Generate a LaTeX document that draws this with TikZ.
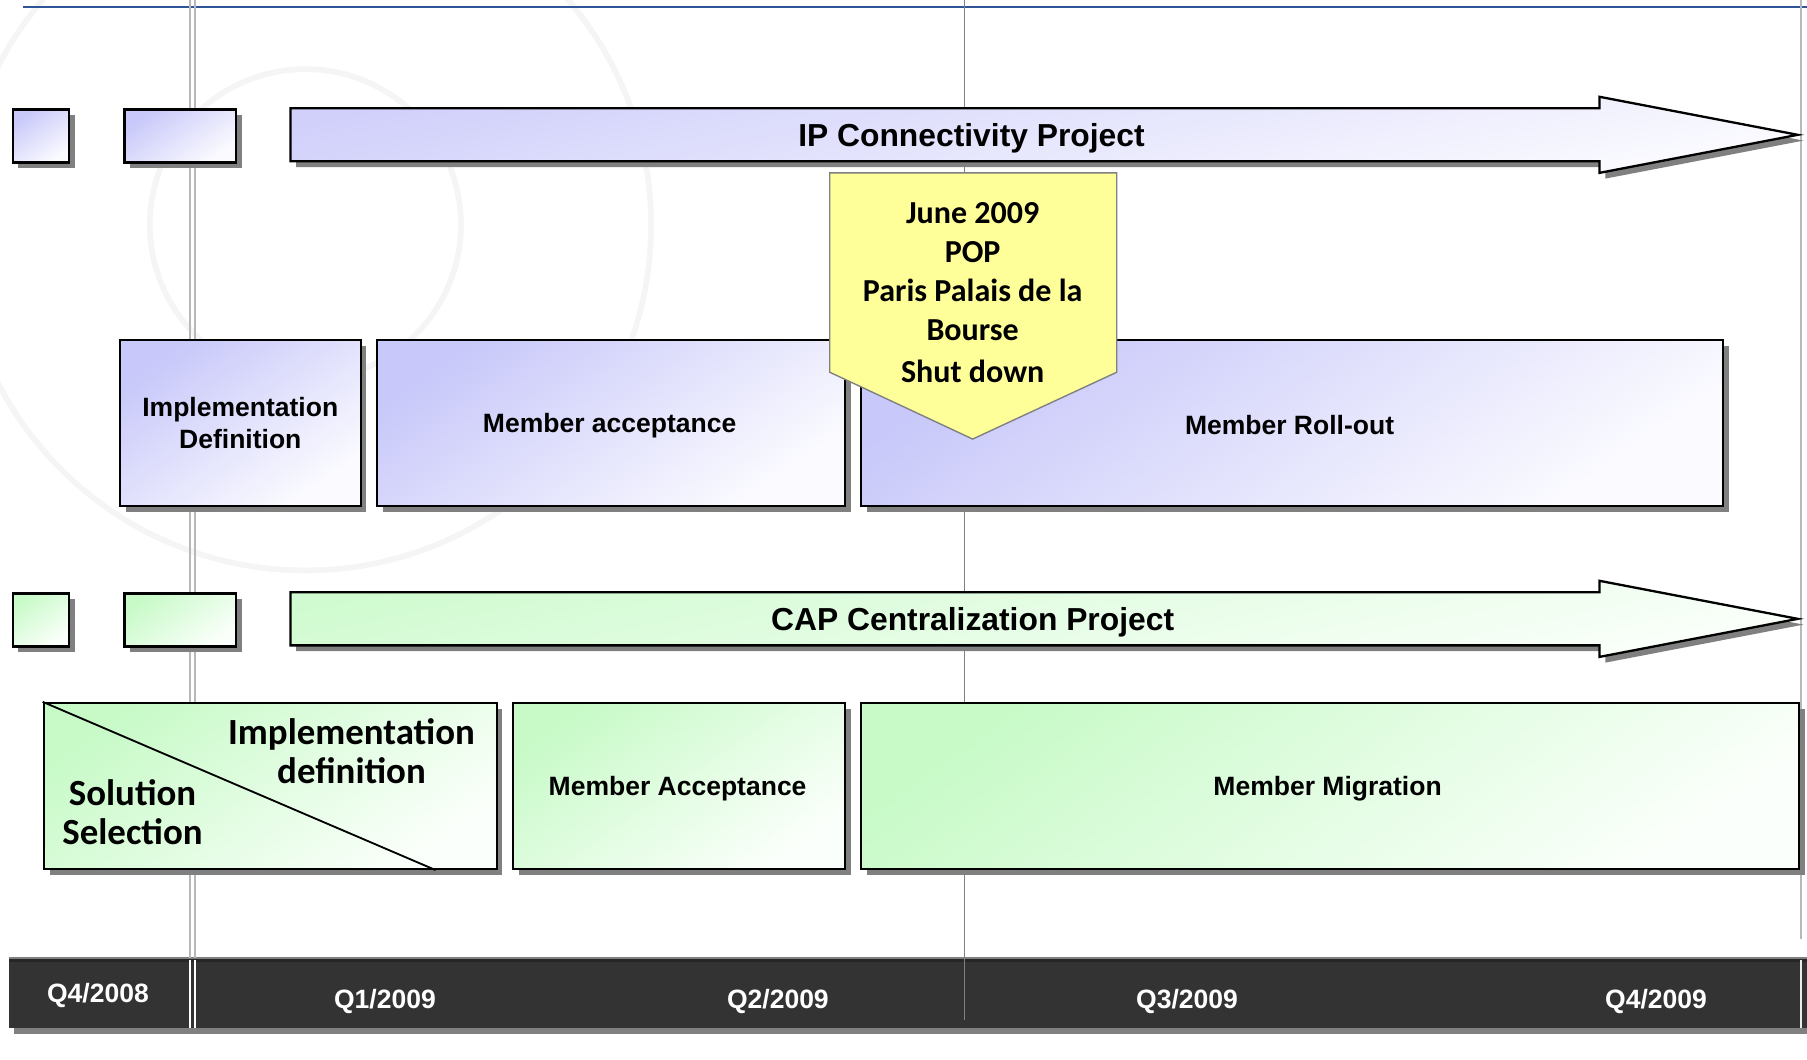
\documentclass[tikz,border=0pt]{standalone}
\usepackage{fontspec}
\setmainfont{Liberation Sans}
\newfontfamily\calfont{Carlito}
\usetikzlibrary{calc}
\definecolor{ipTop}{HTML}{C8C8FA}
\definecolor{ipBot}{HTML}{FBFBFF}
\definecolor{capTop}{HTML}{C8FAC8}
\definecolor{capBot}{HTML}{FBFFFB}
\definecolor{shadowc}{HTML}{808080}
\definecolor{barc}{HTML}{333333}
\definecolor{calloutc}{HTML}{FFFF99}
\definecolor{bluel}{HTML}{2F5597}
\definecolor{vlinec}{HTML}{B8B8B8}
\definecolor{wmc}{HTML}{F5F5F5}
\begin{document}
\begin{tikzpicture}[x=0.5pt,y=-0.5pt,
  shadowed/.style={preaction={fill=shadowc, transform canvas={shift={(5,5)}}}},
  ipfill/.style={top color=ipTop, bottom color=ipBot, shading angle=35},
  capfill/.style={top color=capTop, bottom color=capBot, shading angle=35},
  ipafill/.style={top color=ipTop!85!white, bottom color=ipBot, shading angle=12},
  capafill/.style={top color=capTop!85!white, bottom color=capBot, shading angle=12},
  phase/.style={draw=black, line width=1pt, anchor=north west, inner sep=0pt,
    align=center, shadowed, minimum height=72pt,
    font=\bfseries\fontsize{11.5}{14}\selectfont},
  smallbox/.style={draw=black, line width=1pt, anchor=north west, inner sep=0pt,
    shadowed, minimum height=23pt},
  arrowlabel/.style={font=\bfseries\fontsize{13.8}{16}\selectfont, inner sep=0pt},
  barlabel/.style={font=\bfseries\fontsize{11.5}{14}\selectfont, text=white, inner sep=0pt},
  calltext/.style={font=\calfont\bfseries\fontsize{13.9}{16.8}\selectfont, align=center, inner sep=0pt},
  soltext/.style={font=\calfont\bfseries\fontsize{16}{17}\selectfont, align=center, inner sep=0pt},
  boxtext/.style={font=\bfseries\fontsize{11.5}{14}\selectfont, inner sep=0pt},
  wm/.style={draw=wmc, line width=2.5pt}
]
\useasboundingbox (0,0) rectangle (1568,919);
\clip (0,0) rectangle (1568,919);

% watermark
\draw[wm] (265,195) circle [radius=300];
\draw[wm] (265,195) circle [radius=135];

% top blue rule
\draw[bluel, line width=1.1pt] (20,6) -- (1568,6);

% bottom quarter bar
\fill[shadowc] (12,892) rectangle (1568,897);
\fill[barc] (8,832) rectangle (1568,892);
\draw[shadowc, line width=0.8pt] (8,831) -- (1568,831);
\draw[black!85, line width=1pt] (8,833.5) -- (1568,833.5);

% vertical time lines
\draw[vlinec, line width=1pt] (165,0) -- (165,831) (169,0) -- (169,831);
\draw[white, line width=1pt] (165,833) -- (165,892) (169,833) -- (169,892);
\draw[gray, line width=0.7pt] (837,0) -- (837,885);
\draw[vlinec, line width=1pt] (1563,0) -- (1563,815);
\draw[white!85!gray, line width=1pt] (1563,833) -- (1563,892);

% IP row
\node[smallbox, ipfill, minimum width=24.5pt] (ips1) at (10,94) {};
\node[smallbox, ipfill, minimum width=48.5pt] (ips2) at (107,94) {};
\draw[line width=1pt, ipafill, shadowed] (252,94) -- (1388,94) -- (1388,84) -- (1560,117)
  -- (1388,150) -- (1388,140) -- (252,140) -- cycle;
\node[arrowlabel] (iplabel) at (843,120) {IP Connectivity Project};

\node[phase, ipfill, minimum width=104.5pt] (ipdef) at (103,294) {Implementation\\Definition};
\node[phase, ipfill, minimum width=203pt] (ipacc) at (326,294) {};
\node[boxtext] (ipacctxt) at (529,369) {Member acceptance};
\node[phase, ipfill, minimum width=374pt] (iproll) at (746,294) {};
\node[boxtext] (ipro) at (1119,369) {Member Roll-out};

% CAP row
\node[smallbox, capfill, minimum width=24.5pt] (caps1) at (10,514) {};
\node[smallbox, capfill, minimum width=48.5pt] (caps2) at (107,514) {};
\draw[line width=1pt, capafill, shadowed] (252,514) -- (1388,514) -- (1388,504) -- (1560,537)
  -- (1388,570) -- (1388,560) -- (252,560) -- cycle;
\node[arrowlabel] (caplabel) at (844,540) {CAP Centralization Project};

\node[phase, capfill, minimum width=196.5pt] (sol) at (37,609) {};
\draw[line width=0.8pt] (sol.north west) -- ($(sol.south west)+(341,0)$);
\node[soltext] (impltxt) at (305,652) {Implementation\\definition};
\node[soltext] (soltxt) at (115,705) {Solution\\Selection};
\node[phase, capfill, minimum width=144pt] (capacc) at (444,609) {};
\node[boxtext] (capacctxt) at (588,684) {Member Acceptance};
\node[phase, capfill, minimum width=407pt] (capmig) at (746,609) {};
\node[boxtext] (capmigtxt) at (1152,684) {Member Migration};

% callout
\draw[fill=calloutc, draw=gray, line width=0.6pt] (720,150) -- (969,150) -- (969,323)
  -- (844,381) -- (720,323) -- cycle;
\node[calltext] (calltxt) at (844,254) {June 2009\\POP\\Paris Palais de la\\Bourse\\[1.5pt]Shut down};

% quarter labels
\node[barlabel] (q408) at (85,864) {Q4/2008};
\node[barlabel] (q109) at (334,869) {Q1/2009};
\node[barlabel] (q209) at (675,869) {Q2/2009};
\node[barlabel] (q309) at (1030,869) {Q3/2009};
\node[barlabel] (q409) at (1437,869) {Q4/2009};
\end{tikzpicture}
\end{document}
